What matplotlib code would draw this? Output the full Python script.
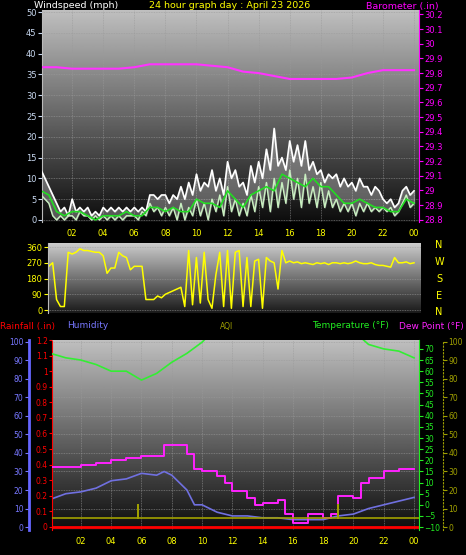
import numpy as np
import matplotlib
matplotlib.use("Agg")
import matplotlib.pyplot as plt

# ---- data ----
hours_q = np.arange(0, 24.01, 0.25)
hours_h = np.arange(0, 24.01, 0.5)
hours_1 = np.arange(0, 25, 1)

gust = [12, 10, 8, 6, 4, 2, 3, 1, 5, 2, 3, 2, 3, 1, 2, 1, 3, 2, 3, 2, 3, 2, 3, 2,
        3, 2, 3, 2, 6, 6, 5, 6, 6, 4, 6, 5, 8, 5, 9, 6, 11, 7, 9, 8, 12, 7, 10, 6,
        14, 10, 12, 8, 9, 6, 13, 9, 14, 10, 17, 12, 22, 13, 15, 12, 19, 14, 18, 13,
        19, 12, 14, 11, 12, 9, 11, 10, 11, 8, 10, 8, 9, 7, 10, 8, 8, 6, 8, 7,
        5, 4, 5, 3, 4, 7, 8, 6, 7]
speed = [6, 5, 4, 1, 0, 1, 0, 1, 1, 0, 2, 1, 1, 0, 1, 0, 1, 0, 1, 0, 1, 0, 1, 1,
         1, 0, 2, 1, 4, 2, 3, 1, 3, 1, 3, 0, 4, 0, 3, 1, 5, 1, 4, 0, 5, 2, 6, 1,
         8, 2, 5, 1, 4, 1, 6, 2, 8, 3, 9, 2, 10, 3, 9, 4, 12, 5, 10, 3, 11, 4, 8, 3,
         9, 3, 7, 3, 5, 2, 4, 2, 4, 1, 4, 2, 4, 2, 3, 2, 3, 2, 3, 1, 2, 4, 6, 3, 4]
avg_wind = [7, 6, 2, 1, 2, 2, 1, 0, 1, 1, 1, 2, 1, 1, 3, 3, 2, 3, 2, 2, 5, 4, 4, 3,
            7, 5, 3, 6, 7, 8, 7, 11, 10, 9, 8, 10, 8, 8, 6, 4, 4, 5, 4, 3, 3, 2, 2, 5, 4]
baro = [29.84, 29.84, 29.83, 29.83, 29.83, 29.83, 29.84, 29.86, 29.86, 29.86, 29.86,
        29.85, 29.84, 29.81, 29.80, 29.78, 29.76, 29.76, 29.76, 29.76, 29.77, 29.80,
        29.82, 29.82, 29.82]
direction = [220, 230, 250, 270, 60, 20, 20, 330, 320, 330, 350, 340, 340, 335, 330, 330,
             310, 210, 240, 240, 330, 310, 300, 230, 250, 250, 250, 60, 60, 60, 80, 70,
             90, 100, 110, 120, 130, 20, 340, 30, 300, 40, 330, 60, 10, 200, 330, 20,
             340, 10, 330, 340, 20, 300, 20, 280, 290, 10, 300, 280, 270, 120, 340, 270,
             280, 270, 275, 265, 270, 265, 260, 270, 265, 270, 260, 270, 270, 265, 270, 265,
             270, 280, 270, 265, 265, 270, 260, 255, 255, 250, 245, 300, 270, 270, 275, 265, 270]
temperature = [68, 66, 65, 63, 60, 60, 56, 59, 64, 68, 73, 80, 82, 84, 85, 86, 86, 85,
               84, 82, 78, 72, 70, 69, 66]
dew_t = [0, 1, 2, 3, 4, 5, 6, 7, 7.5, 8, 9, 9.5, 10, 11, 11.5, 12, 13, 13.5, 14, 15,
         15.5, 16, 17, 17.5, 18, 18.5, 19, 20, 20.5, 21, 22, 23, 24]
dew_point = [17, 17, 18, 19, 20, 21, 22, 22, 27, 27, 23, 16, 15, 13, 10, 6, 3, 0, 1, 2,
             -4, -8, -4, -4, -6, -4, 4, 3, 10, 12, 15, 16, 16]
hum_t = [0, 1, 2, 3, 4, 5, 6, 7, 7.5, 8, 9, 9.5, 10, 11, 12, 13, 14, 15, 16, 17, 18,
         19, 20, 21, 22, 23, 24]
humidity = [15, 18, 19, 21, 25, 26, 29, 28, 30, 28, 20, 12, 12, 8, 6, 6, 5, 5, 4, 4, 4,
            6, 7, 10, 12, 14, 16]
aqi_t = [0, 5.8, 5.8, 5.8, 19, 19, 19, 24.3]
aqi = [5, 5, 12, 5, 5, 12, 5, 5]
rain_t = [0, 24.3]
rain = [0, 0]
hour_ticks = list(range(2, 25, 2))
hour_labels = ["%02d" % (h % 24) for h in hour_ticks]

W, H = 466, 555
fig = plt.figure(figsize=(W / 100, H / 100), dpi=100, facecolor="black")


def box(x0, y0, x1, y1):
    return [x0 / W, 1 - y1 / H, (x1 - x0) / W, (y1 - y0) / H]


def setup(ax, xlim, ylim, top=0.75, bottom=0.05):
    ax.set_facecolor("black")
    grad = np.linspace(bottom, top, 256).reshape(-1, 1)
    ax.imshow(grad, cmap="gray", vmin=0, vmax=1, aspect="auto", zorder=0,
              extent=[xlim[0], xlim[1], ylim[0], ylim[1]], origin="lower",
              interpolation="bilinear")
    ax.set_xlim(*xlim)
    ax.set_ylim(*ylim)
    ax.set_xticks(hour_ticks)
    ax.set_xticklabels(hour_labels, color="yellow", fontsize=6)
    ax.tick_params(axis="x", length=0, pad=5)
    ax.grid(True, color="#9a9a9a", lw=0.6, ls=(0, (1, 1)), alpha=0.7)
    for s in ax.spines.values():
        s.set_visible(False)


# ---- wind / barometer ----
ax1 = fig.add_axes(box(42, 10, 419, 222))
setup(ax1, (0.06, 24.32), (-0.5, 50.5))
ax1.set_yticks(range(0, 51, 5))
ax1.tick_params(axis="y", colors="#c8d8f0", labelsize=6, length=3, pad=1)
ax1.spines["left"].set_visible(True)
ax1.spines["left"].set_color("#bbbbbb")
ax1.plot(hours_q, gust, color="white", lw=1.2, zorder=3)
ax1.fill_between(hours_q, speed, gust, color="#dddddd", alpha=0.35, zorder=2)
ax1.plot(hours_q, speed, color="#c8f0c0", lw=1.0, zorder=4)
ax1.plot(hours_h, avg_wind, color="#22dd22", lw=1.2, zorder=5)
axb = ax1.twinx()
axb.set_ylim(28.785, 30.23)
baro_ticks = np.round(np.arange(28.8, 30.21, 0.1), 1)
axb.set_yticks(baro_ticks)
axb.set_yticklabels(["%g" % v for v in baro_ticks])
axb.tick_params(axis="y", colors="#ff00ff", labelsize=6, length=3, pad=1)
for s in axb.spines.values():
    s.set_visible(False)
axb.spines["right"].set_visible(True)
axb.spines["right"].set_color("#ff00ff")
axb.plot(hours_1, baro, color="#ff33ff", lw=1.5)

fig.text(34 / W, 1 - 6 / H, "Windspeed (mph)", color="white", fontsize=6.8, va="center")
fig.text(230 / W, 1 - 6 / H, "24 hour graph day : April 23 2026", color="yellow",
         fontsize=6.8, va="center", ha="center")
fig.text(439 / W, 1 - 6 / H, "Barometer (.in)", color="#ff00ff", fontsize=6.8,
         va="center", ha="right")

# ---- wind direction ----
ax2 = fig.add_axes(box(48, 243, 421, 313))
setup(ax2, (0.45, 24.45), (-17, 383), top=0.8, bottom=0.1)
ax2.set_xticks([])
ax2.set_yticks([0, 90, 180, 270, 360])
ax2.tick_params(axis="y", colors="yellow", labelsize=6, length=3, pad=1)
ax2.spines["left"].set_visible(True)
ax2.spines["left"].set_color("#bbbbbb")
ax2.plot(hours_q, direction, color="yellow", lw=1.1)
for y, lab in zip([245, 262, 279, 296, 312], "NWSEN"):
    fig.text(439 / W, 1 - y / H, lab, color="yellow", fontsize=7, ha="center", va="center")

# ---- rain / humidity / temperature ----
ax3 = fig.add_axes(box(52, 340, 419, 530))
setup(ax3, (0.09, 24.33), (-1.6, 101))
ax3.set_yticks(range(0, 101, 10))
ax3.tick_params(axis="y", colors="#7777ff", labelsize=5.5, length=3, pad=1)
ax3.spines["left"].set_visible(True)
ax3.spines["left"].set_position(("outward", 23 * 0.72))
ax3.spines["left"].set_color("#6666ff")
ax3.spines["left"].set_linewidth(2)
ax3.plot(hum_t, humidity, color="#7070e0", lw=1.2, zorder=4)

axr = ax3.twinx()
axr.set_ylim(-0.02, 1.2)
axr.yaxis.tick_left()
rain_ticks = np.round(np.arange(0, 1.21, 0.1), 1)
axr.set_yticks(rain_ticks)
axr.set_yticklabels(["%g" % v for v in rain_ticks])
axr.tick_params(axis="y", colors="red", labelsize=5.5, length=2, pad=1)
for s in axr.spines.values():
    s.set_visible(False)
axr.spines["left"].set_visible(True)
axr.spines["left"].set_color("red")
axr.spines["left"].set_linestyle((0, (2, 1)))
axr.plot(rain_t, rain, color="red", lw=2, zorder=5)

axt = ax3.twinx()
axt.set_ylim(-11.3, 74.0)
axt.set_yticks(range(-10, 71, 5))
axt.tick_params(axis="y", colors="#22ee22", labelsize=5.5, length=3, pad=1)
for s in axt.spines.values():
    s.set_visible(False)
axt.spines["right"].set_visible(True)
axt.spines["right"].set_color("#22ee22")
axt.plot(hours_1, temperature, color="#33ee33", lw=1.2)
axt.plot(dew_t, dew_point, color="#ff22ff", lw=1.4, drawstyle="steps-post")

axq = ax3.twinx()
axq.set_ylim(-1.6, 101)
axq.set_yticks(range(0, 101, 10))
axq.tick_params(axis="y", colors="#a0a000", labelsize=5.5, length=3, pad=1)
for s in axq.spines.values():
    s.set_visible(False)
axq.spines["right"].set_visible(True)
axq.spines["right"].set_position(("outward", 24 * 0.72))
axq.spines["right"].set_color("#a0a000")
axq.spines["right"].set_linestyle((0, (1, 2)))
axq.plot(aqi_t, aqi, color="#a0a000", lw=1.2, zorder=6)

fig.text(0, 1 - 326 / H, "Rainfall (.in)", color="red", fontsize=6.5, va="center")
fig.text(67 / W, 1 - 326 / H, "Humidity", color="#7777ff", fontsize=6.5, va="center")
fig.text(220 / W, 1 - 326 / H, "AQI", color="#a0a000", fontsize=5.5, va="center")
fig.text(312 / W, 1 - 326 / H, "Temperature (\u00b0F)", color="#22ee22", fontsize=6.5, va="center")
fig.text(464 / W, 1 - 326 / H, "Dew Point (\u00b0F)", color="#ff22ff", fontsize=6.5,
         va="center", ha="right")

fig.savefig("out.png", dpi=100, facecolor="black")
